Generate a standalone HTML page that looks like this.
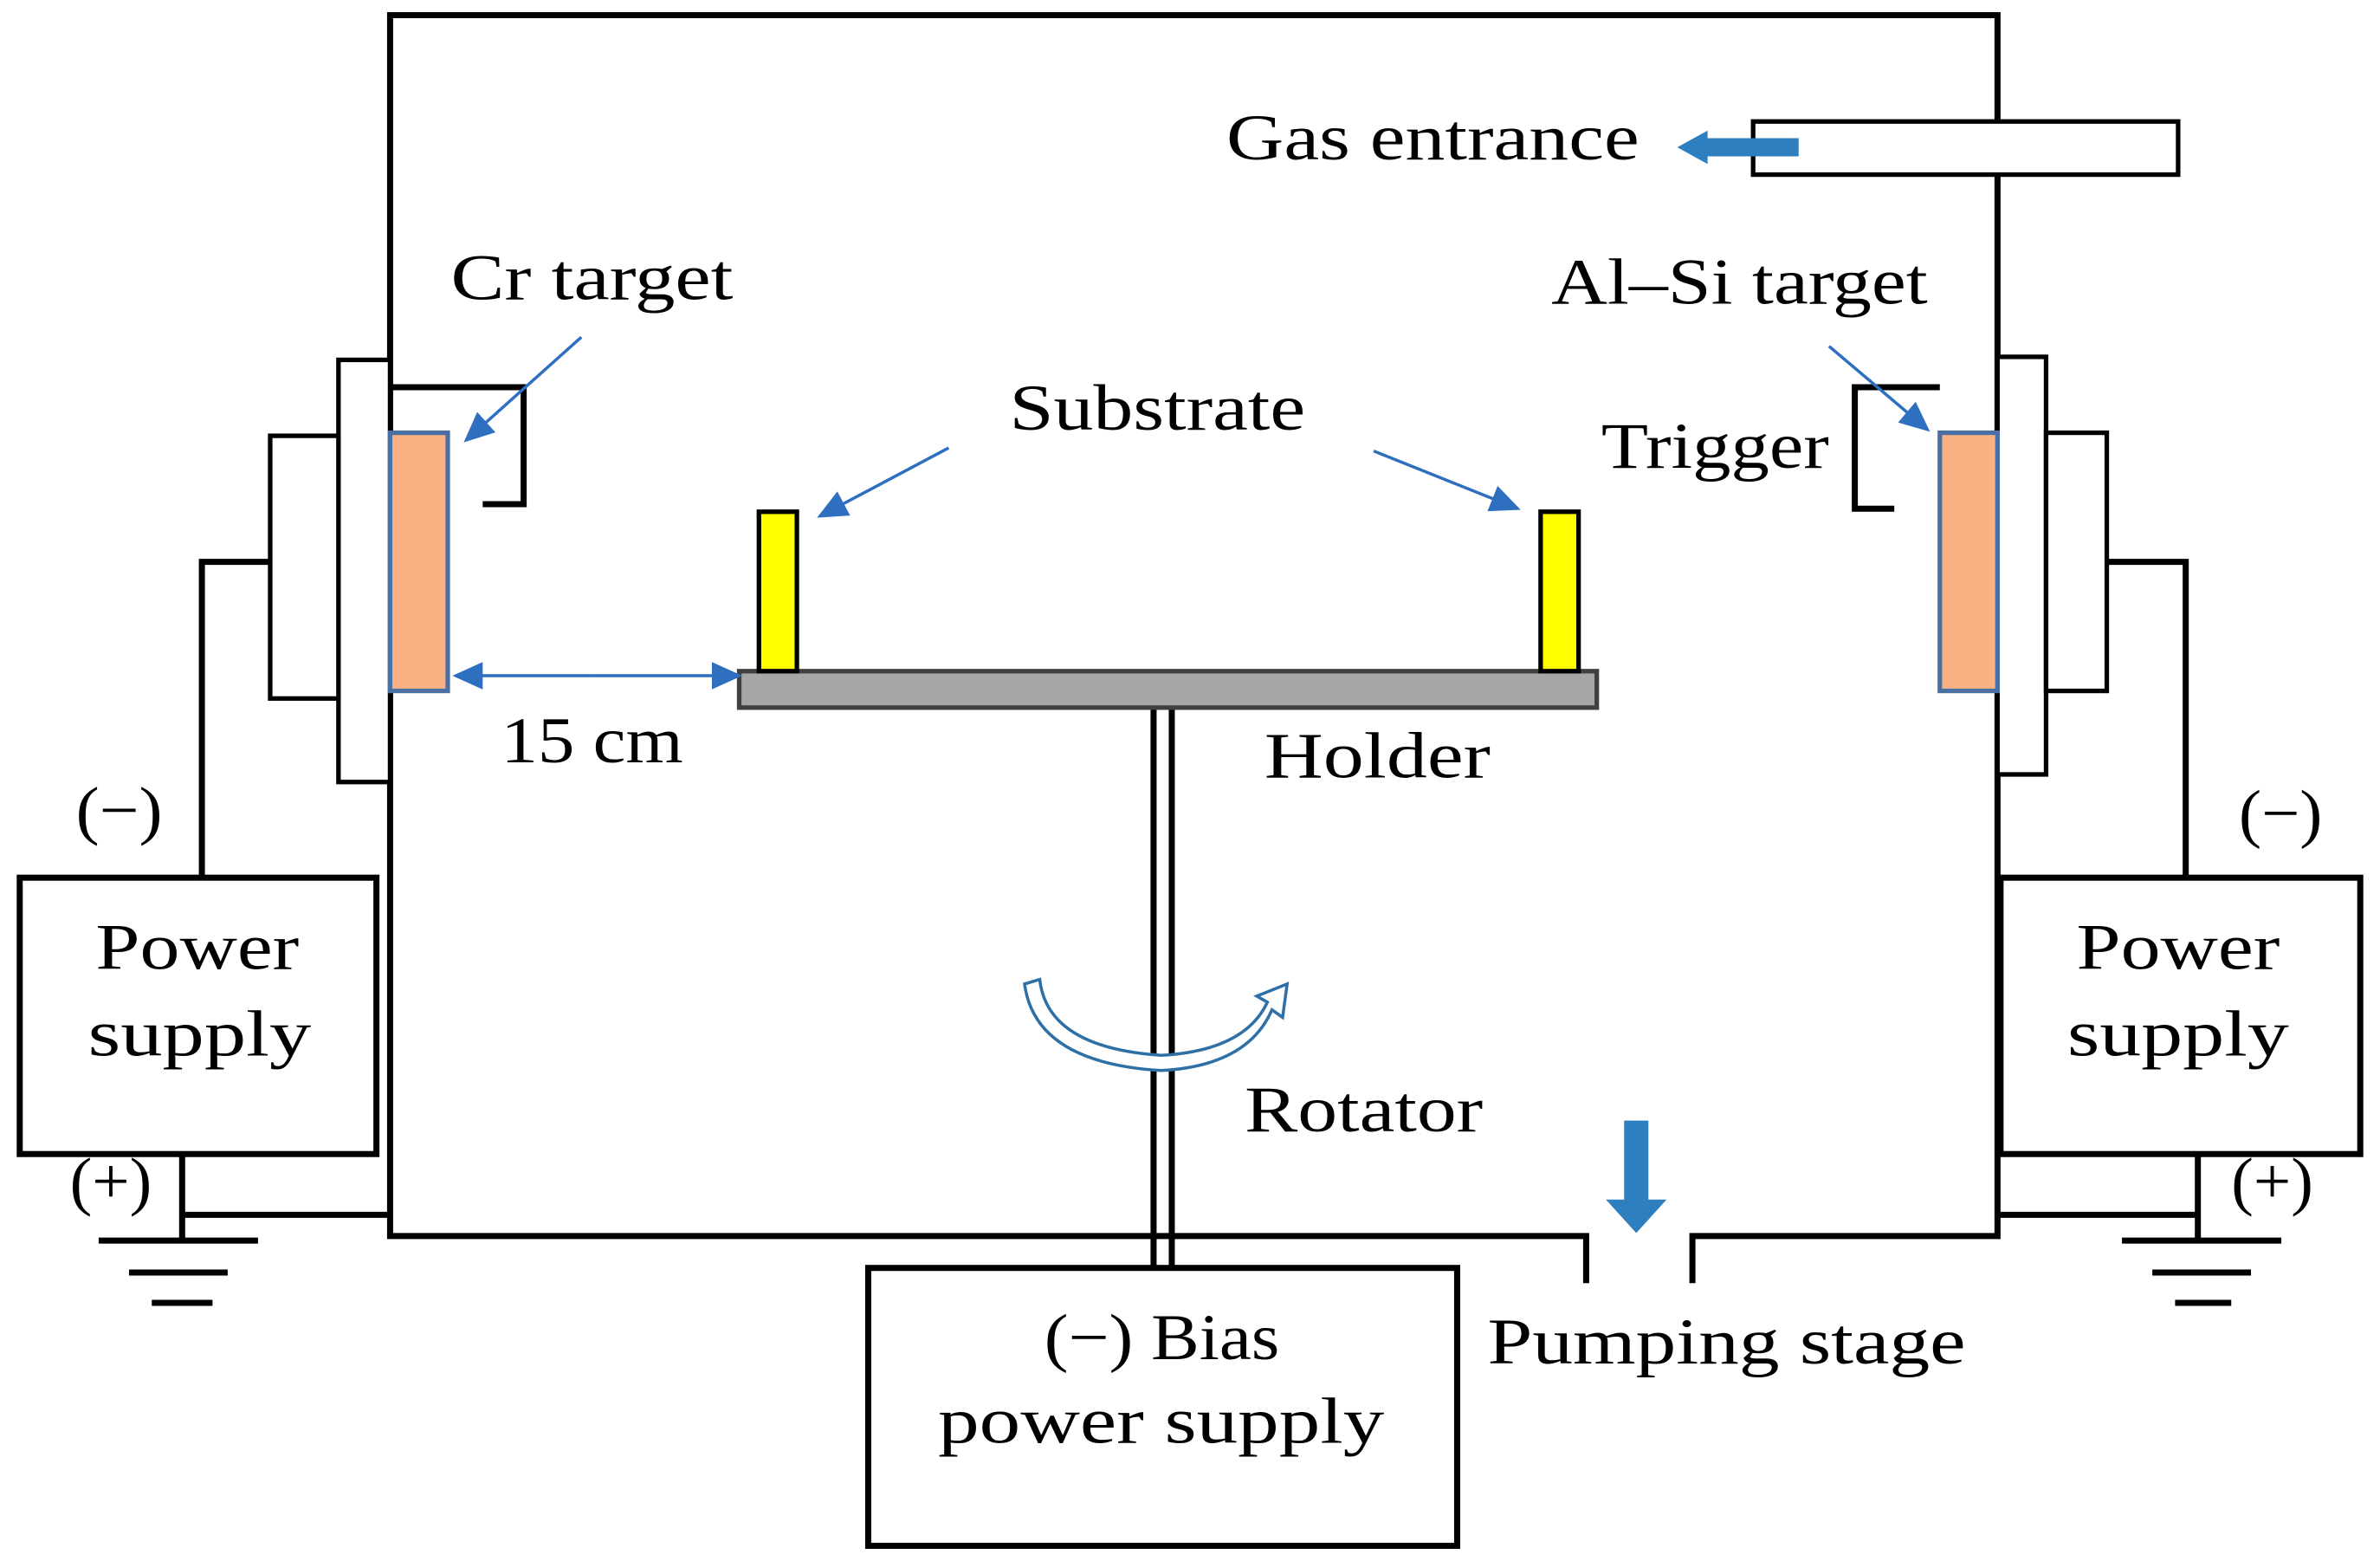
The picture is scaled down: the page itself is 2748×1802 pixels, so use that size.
<!DOCTYPE html>
<html><head><meta charset="utf-8"><style>
html,body{margin:0;padding:0;background:#fff}
svg{display:block}
text{font-family:"Liberation Serif",serif;font-size:43px;fill:#000}
</style></head><body>
<svg width="2748" height="1802" viewBox="0 0 1568 1028" preserveAspectRatio="none" xmlns="http://www.w3.org/2000/svg">
<defs>
<marker id="ah" markerWidth="20" markerHeight="18" refX="18" refY="9" orient="auto" markerUnits="userSpaceOnUse" viewBox="0 0 20 18">
<path d="M0,0 L20,9 L0,18 Z" fill="#2e6fc0"/></marker>
</defs>
<g fill="none" stroke="#000" stroke-width="4">
<path d="M1045,845 L1045,814 L257,814 L257,10 L1316,10 L1316,814 L1115,814 L1115,845"/>
<path d="M257,255 L345,255 L345,332 L318,332"/>
<path d="M178,370 L133,370 L133,578"/>
<rect x="13" y="578" width="235" height="182"/>
<path d="M120,760 L120,817 M120,800 L257,800"/>
<path d="M65,817 L170,817 M85,838 L150,838 M100,858 L140,858"/>
<path d="M1278,255 L1222,255 L1222,335 L1248,335"/>
<path d="M1388,370 L1440,370 L1440,578"/>
<rect x="1318" y="578" width="237" height="182"/>
<path d="M1448,760 L1448,817 M1316,800 L1448,800"/>
<path d="M1398,817 L1503,817 M1418,838 L1483,838 M1433,858 L1470,858"/>
<path d="M760,466 L760,835 M772,466 L772,835"/>
<rect x="572" y="835" width="388" height="183"/>
</g>
<g fill="#fff" stroke="#000" stroke-width="3">
<rect x="1155" y="80" width="280" height="35"/>
<rect x="223" y="237" width="34" height="278"/>
<rect x="178" y="287" width="45" height="173"/>
<rect x="1316" y="235" width="32" height="275"/>
<rect x="1348" y="285" width="40" height="170"/>
</g>
<rect x="257" y="285" width="38" height="170" fill="#f9b183" stroke="#4a6fa5" stroke-width="3"/>
<rect x="1278" y="285" width="38" height="170" fill="#f9b183" stroke="#4a6fa5" stroke-width="3"/>
<rect x="487" y="442" width="565" height="24" fill="#a6a6a6" stroke="#404040" stroke-width="3"/>
<rect x="500" y="337" width="25" height="105" fill="#ffff00" stroke="#000" stroke-width="3"/>
<rect x="1015" y="337" width="25" height="105" fill="#ffff00" stroke="#000" stroke-width="3"/>
<path d="M1185,91 L1125,91 L1125,86 L1105,97 L1125,108 L1125,103 L1185,103 Z" fill="#2e7fc0"/>
<path d="M1070,738 L1086,738 L1086,790 L1098,790 L1078,812 L1058,790 L1070,790 Z" fill="#2e7fc0"/>
<g stroke="#2e6fc0" stroke-width="2" fill="none" marker-end="url(#ah)">
<path d="M383,222 L307,290"/>
<path d="M625,295 L540,340"/>
<path d="M905,297 L1000,335"/>
<path d="M1205,228 L1270,283"/>
<path d="M390,445 L487,445"/>
<path d="M390,445 L300,445"/>
</g>
<path d="M685,645 Q690,690 765,695 Q820,692 835,660 L828,656 L848,648 L845,670 L838,665 Q822,702 765,705 Q682,700 675,648 Z" fill="#fff" stroke="#2e6fa5" stroke-width="2"/>
<g lengthAdjust="spacingAndGlyphs">
<text x="808" y="105" textLength="272" lengthAdjust="spacingAndGlyphs">Gas entrance</text>
<text x="297" y="197" textLength="186" lengthAdjust="spacingAndGlyphs">Cr target</text>
<text x="1022" y="200" textLength="248" lengthAdjust="spacingAndGlyphs">Al–Si target</text>
<text x="665" y="283" textLength="195" lengthAdjust="spacingAndGlyphs">Substrate</text>
<text x="1055" y="308" textLength="150" lengthAdjust="spacingAndGlyphs">Trigger</text>
<text x="330" y="502" textLength="120" lengthAdjust="spacingAndGlyphs">15 cm</text>
<text x="833" y="512" textLength="149" lengthAdjust="spacingAndGlyphs">Holder</text>
<text x="50" y="548" textLength="57" lengthAdjust="spacingAndGlyphs">(−)</text>
<text x="1475" y="550" textLength="55" lengthAdjust="spacingAndGlyphs">(−)</text>
<text x="63" y="638" textLength="134" lengthAdjust="spacingAndGlyphs">Power</text>
<text x="58" y="695" textLength="147" lengthAdjust="spacingAndGlyphs">supply</text>
<text x="1368" y="638" textLength="134" lengthAdjust="spacingAndGlyphs">Power</text>
<text x="1362" y="695" textLength="146" lengthAdjust="spacingAndGlyphs">supply</text>
<text x="820" y="745" textLength="157" lengthAdjust="spacingAndGlyphs">Rotator</text>
<text x="46" y="792" textLength="54" lengthAdjust="spacingAndGlyphs">(+)</text>
<text x="1470" y="792" textLength="54" lengthAdjust="spacingAndGlyphs">(+)</text>
<text x="980" y="898" textLength="315" lengthAdjust="spacingAndGlyphs">Pumping stage</text>
<text x="688" y="895" textLength="155" lengthAdjust="spacingAndGlyphs">(−) Bias</text>
<text x="618" y="950" textLength="294" lengthAdjust="spacingAndGlyphs">power supply</text>
</g>
</svg>
</body></html>
